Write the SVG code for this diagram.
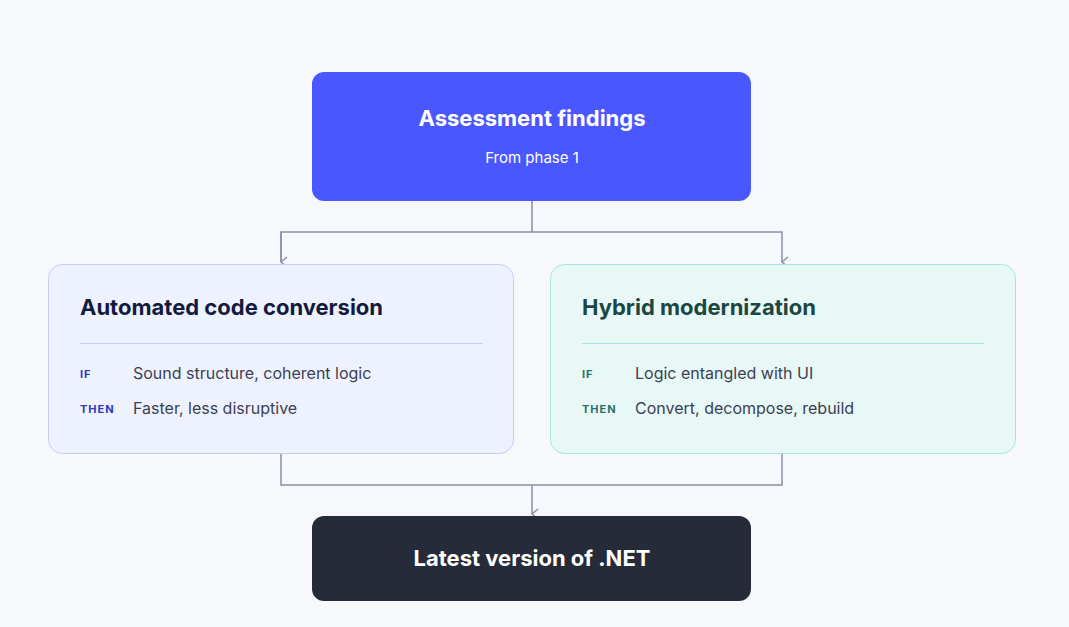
<svg xmlns="http://www.w3.org/2000/svg" width="1069" height="627" viewBox="0 0 1069 627">
<style>
text{font-family:Inter,"Liberation Sans",sans-serif}
.t{font-size:22px;font-weight:700}
.k{font-size:11px;font-weight:700;letter-spacing:1px}
.b{font-size:16px;fill:#3b3f52}
.c{fill:none;stroke:#8a90a6;stroke-width:1.5}
</style>
<defs><marker id="a" markerWidth="12" markerHeight="10" refX="6" refY="8" orient="auto-start-reverse" markerUnits="userSpaceOnUse" viewBox="0 0 12 10"><path d="M1,2 L6,8 L11,2" fill="none" stroke="#8a90a6" stroke-width="1.5"/></marker></defs>
<rect width="1069" height="627" fill="#f7f8fb"/>
<g id="connectors">
<path class="c" d="M532,201 V232"/>
<path class="c" d="M281,262 V232 H782 V262" marker-end="url(#a)"/>
<path class="c" d="M281,232 V262" marker-end="url(#a)"/>
<path class="c" d="M281,453 V485 H782 V453"/>
<path class="c" d="M532,485 V514" marker-end="url(#a)"/>
</g>
<g id="assessment">
<rect x="312" y="72" width="439" height="129" rx="12" fill="#4a57ff"/>
<text x="532" y="126" text-anchor="middle" class="t" fill="#fff" font-size="25">Assessment findings</text>
<text x="532" y="163" text-anchor="middle" font-size="15" fill="#fff">From phase 1</text>
</g>
<g id="automated">
<rect x="48.5" y="264.5" width="465" height="189" rx="14" fill="#eef2fe" stroke="#c5cdf7"/>
<text x="80" y="315" class="t" fill="#141a3d">Automated code conversion</text>
<line x1="80" y1="343.5" x2="483" y2="343.5" stroke="#c5cdf7"/>
<text x="80" y="378" class="k" fill="#2f38c4">IF</text>
<text x="133" y="379" class="b">Sound structure, coherent logic</text>
<text x="80" y="413" class="k" fill="#2f38c4">THEN</text>
<text x="133" y="414" class="b">Faster, less disruptive</text>
</g>
<g id="hybrid">
<rect x="550.5" y="264.5" width="465" height="189" rx="14" fill="#e8f8f7" stroke="#a6e5df"/>
<text x="582" y="315" class="t" fill="#1c4642">Hybrid modernization</text>
<line x1="582" y1="343.5" x2="984" y2="343.5" stroke="#a6e5df"/>
<text x="582" y="378" class="k" fill="#2d7068">IF</text>
<text x="635" y="379" class="b">Logic entangled with UI</text>
<text x="582" y="413" class="k" fill="#2d7068">THEN</text>
<text x="635" y="414" class="b">Convert, decompose, rebuild</text>
</g>
<g id="dotnet">
<rect x="312" y="516" width="439" height="85" rx="12" fill="#262b3a"/>
<text x="532" y="566" text-anchor="middle" class="t" fill="#fff">Latest version of .NET</text>
</g>
</svg>
